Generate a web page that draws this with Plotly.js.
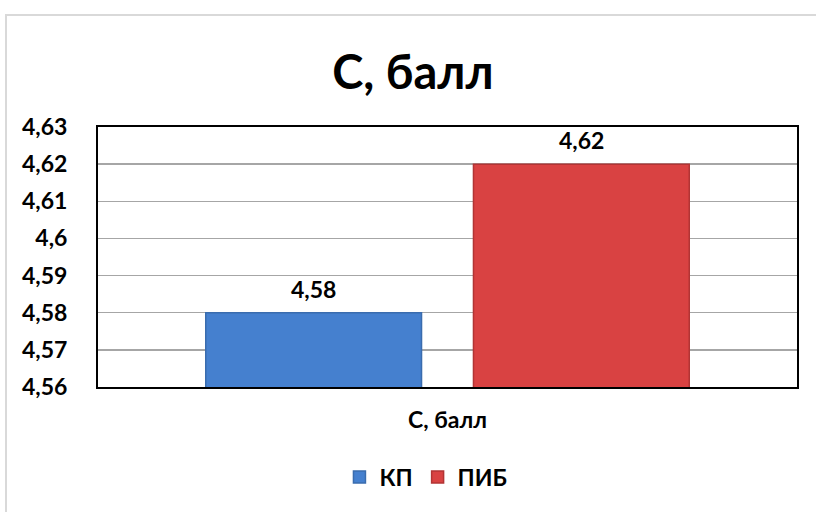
<!DOCTYPE html>
<html>
<head>
<meta charset="utf-8">
<script src="https://cdn.plot.ly/plotly-3.0.1.min.js"></script>
<style>
  html, body { margin: 0; padding: 0; background: #ffffff; }
  #wrap { position: relative; width: 816px; height: 512px; overflow: hidden; }
  #chart { position: absolute; left: 0; top: 0; width: 816px; height: 512px; }
  #frame { position: absolute; left: 5px; top: 14px; width: 820px; height: 520px;
           border: 2px solid #d9d9d9; pointer-events: none; box-sizing: border-box; }
</style>
</head>
<body>
<div id="wrap">
  <div id="chart"></div>
  <div id="frame"></div>
</div>
<script>
const chartTitle = "С, балл";
const categories = ["С, балл"];
const seriesNames = ["КП", "ПИБ"];
const valuesKP = [4.58];
const valuesPIB = [4.62];
const tickValues = [4.56, 4.57, 4.58, 4.59, 4.6, 4.61, 4.62, 4.63];
const tickLabels = ["4,56", "4,57", "4,58", "4,59", "4,6", "4,61", "4,62", "4,63"];

const fmt = v => String(v).replace(".", ",");
const FONT = "Lato, 'Open Sans', sans-serif";
const FS = 23;

const series = [
  { name: seriesNames[0], values: valuesKP, color: "#4580cf", line: "#3a6cae" },
  { name: seriesNames[1], values: valuesPIB, color: "#d94242", line: "#b23434" }
];

const traces = series.map(s => ({
  type: "bar", name: s.name, x: categories, y: s.values,
  marker: { color: s.color, line: { color: s.line, width: 1.5 } }
}));

// data labels: placed at each bar's value, shifted sideways to its bar in the group
const plotW = 816 - 98 - 19;
const bargap = 0.234;
const slotPx = plotW * (1 - bargap) / series.length;
const annotations = [];
series.forEach((s, si) => {
  s.values.forEach((v, i) => {
    annotations.push({
      x: categories[i], y: v, xref: "x", yref: "y",
      text: "<b>" + fmt(v) + "</b>", showarrow: false,
      xshift: (si - (series.length - 1) / 2) * slotPx,
      yshift: 24, yanchor: "middle",
      font: { family: FONT, size: FS, color: "#000000" }
    });
  });
});

const layout = {
  width: 816, height: 512,
  paper_bgcolor: "#ffffff", plot_bgcolor: "#ffffff",
  margin: { l: 98, r: 19, t: 127, b: 125 },
  separators: ", ",
  font: { family: FONT, size: FS, color: "#000000", weight: "bold" },
  title: {
    text: "<b>" + chartTitle + "</b>",
    font: { family: FONT, size: 47, color: "#000000" },
    x: 0.506, xanchor: "center", xref: "container",
    y: 0.858, yanchor: "middle", yref: "container"
  },
  barmode: "group", bargap: bargap, bargroupgap: 0.194,
  annotations: annotations,
  xaxis: {
    type: "category", showgrid: false, zeroline: false,
    showline: true, linecolor: "#000000", linewidth: 2, mirror: true,
    ticks: "", tickfont: { family: FONT, size: FS, color: "#000000", weight: "bold" },
    ticklabelstandoff: 11
  },
  yaxis: {
    range: [4.56, 4.63], zeroline: false,
    tickmode: "array", tickvals: tickValues, ticktext: tickLabels,
    showgrid: true, gridcolor: "#a6a6a6", gridwidth: 1.5,
    showline: true, linecolor: "#000000", linewidth: 2, mirror: true,
    ticks: "", ticklabelstandoff: 24,
    tickfont: { family: FONT, size: FS, color: "#000000", weight: "bold" }
  },
  showlegend: true,
  legend: {
    orientation: "h", x: 0.522, xref: "container", xanchor: "center",
    y: 1 - 477 / 512, yref: "container", yanchor: "middle",
    font: { family: FONT, size: FS, color: "#000000", weight: "bold" },
    itemwidth: 30, tracegroupgap: 0
  }
};

Plotly.newPlot("chart", traces, layout, { displayModeBar: false, staticPlot: true });
</script>
</body>
</html>
